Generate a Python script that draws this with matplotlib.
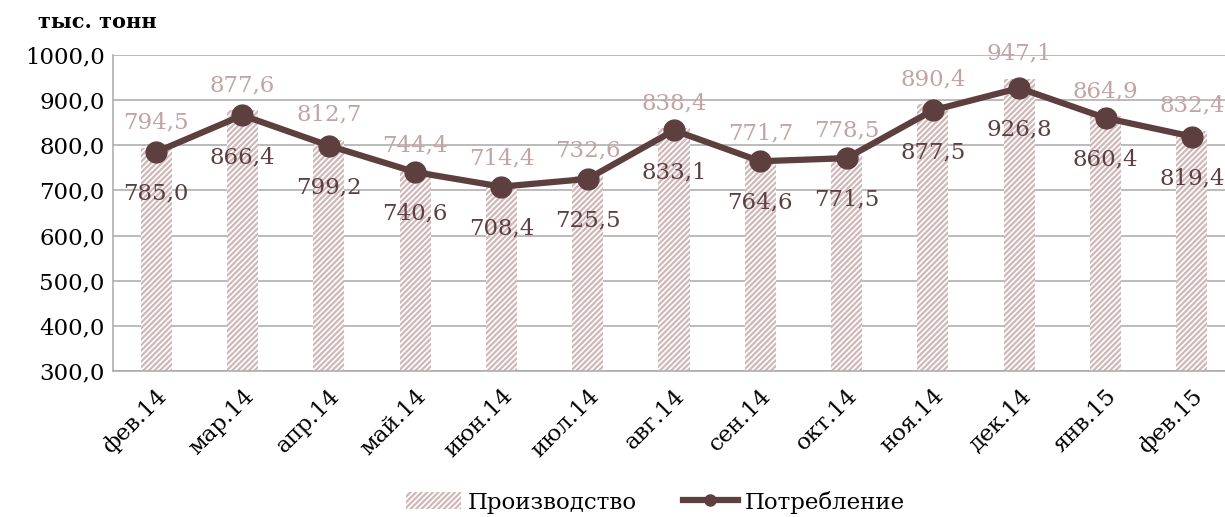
"""Производство и потребление, тыс. тонн (фев.14 - фев.15)."""

import matplotlib

matplotlib.use("Agg")
import matplotlib.pyplot as plt
from matplotlib.lines import Line2D
from matplotlib.patches import Patch

months = ["фев.14", "мар.14", "апр.14", "май.14", "июн.14", "июл.14", "авг.14",
          "сен.14", "окт.14", "ноя.14", "дек.14", "янв.15", "фев.15"]
production = [794.5, 877.6, 812.7, 744.4, 714.4, 732.6, 838.4,
              771.7, 778.5, 890.4, 947.1, 864.9, 832.4]
consumption = [785.0, 866.4, 799.2, 740.6, 708.4, 725.5, 833.1,
               764.6, 771.5, 877.5, 926.8, 860.4, 819.4]
y_ticks = [300, 400, 500, 600, 700, 800, 900, 1000]

BAR_FACE = "#d0b8b8"
PROD_TXT = "#c3a3a3"
LINE_CLR = "#5e3f40"
GRID_CLR = "#a8a8a8"
FS = 16.5

plt.rcParams["font.family"] = ["DejaVu Serif"]
plt.rcParams["hatch.linewidth"] = 1.2
plt.rcParams["hatch.color"] = "white"


def fmt(v):
    return f"{v:.1f}".replace(".", ",")


fig = plt.figure(figsize=(12.25, 5.17), dpi=100)
ax = fig.add_axes([113 / 1225, 146 / 517, 1122 / 1225, 316 / 517])

x = list(range(len(months)))
ax.bar(x, [p - 300 for p in production], bottom=300, width=0.36,
       color=BAR_FACE, edgecolor="white", hatch="//////", linewidth=0, zorder=2)
ax.plot(x, consumption, color=LINE_CLR, linewidth=4.5, marker="o",
        markersize=15, zorder=3)

for i, (p, c) in enumerate(zip(production, consumption)):
    ax.annotate(fmt(p), (i, p), xytext=(0, 18), textcoords="offset points",
                ha="center", va="center", fontsize=FS, color=PROD_TXT, zorder=4)
    ax.annotate(fmt(c), (i, c), xytext=(0, -30), textcoords="offset points",
                ha="center", va="center", fontsize=FS, color=LINE_CLR, zorder=4)

ax.set_xlim(-0.5, len(months) - 0.5)
ax.set_ylim(300, 1000)
ax.set_yticks(y_ticks)
ax.set_yticklabels([fmt(v) for v in y_ticks], fontsize=FS)
ax.set_xticks(x)
ax.set_xticklabels(months, fontsize=FS, rotation=45, ha="right",
                   rotation_mode="anchor")
ax.tick_params(axis="y", length=0, pad=6)
ax.tick_params(axis="x", length=0, pad=10)
ax.grid(axis="y", color=GRID_CLR, linewidth=1.1, zorder=0)
ax.set_axisbelow(True)
for side in ("top", "right"):
    ax.spines[side].set_visible(False)
for side in ("left", "bottom"):
    ax.spines[side].set_color(GRID_CLR)
    ax.spines[side].set_linewidth(1.1)

fig.text(38 / 1225, 1 - 22 / 517, "тыс. тонн", fontsize=15, fontweight="bold",
         ha="left", va="center")

handles = [
    Patch(facecolor=BAR_FACE, edgecolor="white", hatch="//////", linewidth=0,
          label="Производство"),
    Line2D([0], [0], color=LINE_CLR, linewidth=4.5, marker="o", markersize=8,
           label="Потребление"),
]
fig.legend(handles=handles, loc="center", bbox_to_anchor=(0.535, 1 - 502 / 517),
           ncol=2, frameon=False, fontsize=FS, handlelength=2.4,
           handletextpad=0.3, columnspacing=2.0)

fig.savefig("out.png", dpi=100)
